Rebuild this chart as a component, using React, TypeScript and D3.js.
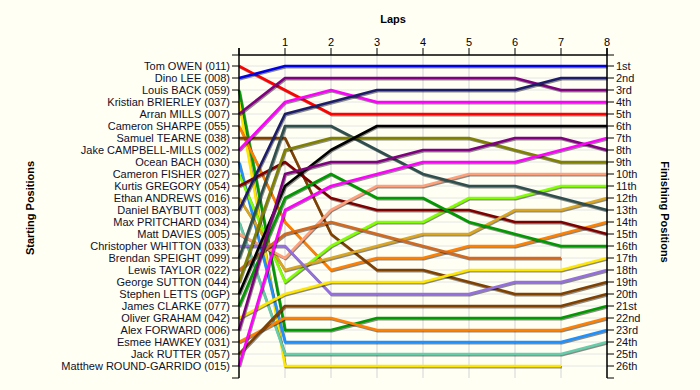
import React from 'react';
import * as d3 from 'd3';

// Starting grid order (lap 0) with the line colour for each driver
const drivers = [
  'Tom OWEN (011)', 'Dino LEE (008)', 'Louis BACK (059)', 'Kristian BRIERLEY (037)',
  'Arran MILLS (007)', 'Cameron SHARPE (055)', 'Samuel TEARNE (038)', 'Jake CAMPBELL-MILLS (002)',
  'Ocean BACH (030)', 'Cameron FISHER (027)', 'Kurtis GREGORY (054)', 'Ethan ANDREWS (016)',
  'Daniel BAYBUTT (003)', 'Max PRITCHARD (034)', 'Matt DAVIES (005)', 'Christopher WHITTON (033)',
  'Brendan SPEIGHT (099)', 'Lewis TAYLOR (022)', 'George SUTTON (044)', 'Stephen LETTS (0GP)',
  'James CLARKE (077)', 'Oliver GRAHAM (042)', 'Alex FORWARD (006)', 'Esmee HAWKEY (031)',
  'Jack RUTTER (057)', 'Matthew ROUND-GARRIDO (015)',
];

const colors = [
  '#ff0000', '#0000e6', '#009900', '#ffe600', '#800080', '#ff8000', '#804000', '#ff00ff',
  '#1e90ff', '#80ff00', '#800000', '#daa520', '#1c1c6b', '#66cdaa', '#ffa07a', '#9370db',
  '#2f4f4f', '#d2691e', '#808000', '#000000', '#009900', '#ffe600', '#800080', '#ff8000',
  '#804000', '#ff00ff',
];

// position after each lap, lap 0..8 (null = not classified)
const positions: (number | null)[][] = [
  [1, 3, 5, 5, 5, 5, 5, 5, 5],
  [2, 1, 1, 1, 1, 1, 1, 1, 1],
  [3, 23, 23, 22, 22, 22, 22, 22, 21],
  [4, 26, 26, 26, 26, 26, 26, 26, null],
  [5, 2, 2, 2, 2, 2, 2, 3, 3],
  [6, 14, 18, 17, 17, 16, 16, 15, 14],
  [7, 7, 15, 18, 18, 19, 20, 20, 19],
  [8, 4, 3, 4, 4, 4, 4, 4, 4],
  [9, 24, 24, 24, 24, 24, 24, 24, 23],
  [10, 19, 16, 14, 14, 12, 12, 11, 11],
  [11, 9, 12, 13, 13, 13, 14, 14, 15],
  [12, 18, 17, 16, 15, 15, 13, 13, 12],
  [13, 5, 4, 3, 3, 3, 3, 2, 2],
  [14, 25, 25, 25, 25, 25, 25, 25, 24],
  [15, 17, 13, 11, 11, 10, 10, 10, 10],
  [16, 16, 20, 20, 20, 20, 19, 19, 18],
  [17, 6, 6, 8, 10, 11, 11, 12, 13],
  [18, 15, 14, 15, 16, 17, 17, 17, null],
  [19, 8, 7, 7, 7, 7, 8, 9, 9],
  [20, 11, 8, 6, 6, 6, 6, 6, 6],
  [21, 12, 10, 12, 12, 14, 15, 16, 16],
  [22, 20, 19, 19, 19, 18, 18, 18, 17],
  [23, 10, 9, 9, 8, 8, 7, 7, 8],
  [24, 22, 22, 23, 23, 23, 23, 23, 22],
  [25, 21, 21, 21, 21, 21, 21, 21, 20],
  [26, 13, 11, 10, 9, 9, 9, 8, 7],
];

const laps = [0, 1, 2, 3, 4, 5, 6, 7, 8];
const finishLabels = [
  '1st', '2nd', '3rd', '4th', '5th', '6th', '7th', '8th', '9th', '10th', '11th', '12th', '13th',
  '14th', '15th', '16th', '17th', '18th', '19th', '20th', '21st', '22nd', '23rd', '24th', '25th', '26th',
];

const W = 700;
const H = 390;
const FONT = 'Arial, "Liberation Sans", sans-serif';

const App = () => {
  const x = d3.scaleLinear().domain([0, 8]).range([239, 607]);
  const y = d3.scaleLinear().domain([1, 26]).range([66, 366]);
  const top = 55;
  const bottom = 378;
  const posTicks = d3.range(1, 27);

  const line = d3.line<number | null>()
    .defined(d => d !== null)
    .x((_, i) => x(laps[i]))
    .y(d => y(d as number));

  return (
    <svg width={W} height={H} style={{ position: 'absolute', left: 0, top: 0, background: '#fffff4' }}
      fontFamily={FONT}>
      <rect width={W} height={H} fill="#fffff4" />

      {/* grid */}
      {posTicks.map(p => (
        <line key={'h' + p} x1={x(0)} x2={x(8)} y1={y(p)} y2={y(p)} stroke="#e6e6e6" strokeWidth={1} />
      ))}
      {laps.slice(1).map(l => (
        <line key={'v' + l} x1={x(l)} x2={x(l)} y1={top} y2={bottom} stroke="#e2e2e2" strokeWidth={1.5} />
      ))}

      {/* series */}
      {positions.map((ps, i) => (
        <g key={drivers[i]}>
          <path d={line(ps) || ''} fill="none" stroke="#000" strokeOpacity={0.45} strokeWidth={2.6}
            transform="translate(0.8,1.2)" strokeLinejoin="round" />
          <path d={line(ps) || ''} fill="none" stroke={colors[i]} strokeWidth={2.6} strokeLinejoin="round" />
        </g>
      ))}

      {/* top axis */}
      <line x1={x(0)} x2={x(8)} y1={top} y2={top} stroke="#000" strokeWidth={1.5} />
      {laps.map(l => (
        <g key={'t' + l}>
          <line x1={x(l)} x2={x(l)} y1={top - 7} y2={top} stroke="#000" strokeWidth={1} />
          {l > 0 && (
            <text x={x(l)} y={top - 9} textAnchor="middle" fontSize={11} fill="#000">{l}</text>
          )}
        </g>
      ))}
      <text x={393} y={23} textAnchor="middle" fontSize={11} fontWeight="bold" fill="#000">Laps</text>

      {/* left axis */}
      <line x1={x(0)} x2={x(0)} y1={top - 7} y2={bottom} stroke="#000" strokeWidth={1.5} />
      <line x1={x(0) - 7} x2={x(0)} y1={top} y2={top} stroke="#000" strokeWidth={1} />
      <line x1={x(0) - 7} x2={x(0)} y1={bottom} y2={bottom} stroke="#000" strokeWidth={1} />
      {drivers.map((d, i) => (
        <g key={'l' + d}>
          <line x1={x(0) - 7} x2={x(0)} y1={y(i + 1)} y2={y(i + 1)} stroke="#000" strokeWidth={1} />
          <text x={x(0) - 9} y={y(i + 1)} dy="0.35em" textAnchor="end" fontSize={11} fill="#10102a">{d}</text>
        </g>
      ))}

      {/* right axis */}
      <line x1={x(8)} x2={x(8)} y1={top - 7} y2={bottom} stroke="#000" strokeWidth={1.5} />
      <line x1={x(8)} x2={x(8) + 7} y1={top} y2={top} stroke="#000" strokeWidth={1} />
      <line x1={x(8)} x2={x(8) + 7} y1={bottom} y2={bottom} stroke="#000" strokeWidth={1} />
      {finishLabels.map((f, i) => (
        <g key={'r' + f}>
          <line x1={x(8)} x2={x(8) + 7} y1={y(i + 1)} y2={y(i + 1)} stroke="#000" strokeWidth={1} />
          <text x={x(8) + 9} y={y(i + 1)} dy="0.35em" textAnchor="start" fontSize={11} fill="#10102a">{f}</text>
        </g>
      ))}

      <text transform="translate(34,208) rotate(-90)" textAnchor="middle" fontSize={11} fontWeight="bold" fill="#000">
        Starting Positions
      </text>
      <text transform="translate(661,212) rotate(90)" textAnchor="middle" fontSize={11} fontWeight="bold" fill="#000">
        Finishing Positions
      </text>
    </svg>
  );
};

export default App;
